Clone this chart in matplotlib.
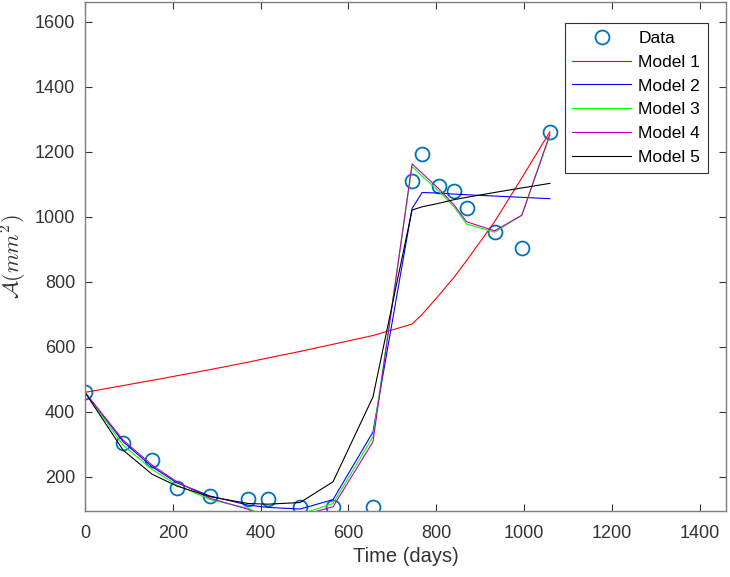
import numpy as np
import matplotlib
matplotlib.use("Agg")
import matplotlib.pyplot as plt

plt.rcParams['font.family'] = ['Liberation Sans', 'DejaVu Sans']
plt.rcParams['mathtext.fontset'] = 'cm'

# observation times (days) and measured area
t = [0, 87, 153, 209, 285, 372, 417, 490, 565, 656,
     745, 768, 807, 841, 869, 933, 995, 1059]
data = [460, 303, 252, 165, 141, 131, 131, 108, 108, 108,
        1110, 1192, 1095, 1080, 1028, 953, 903, 1262]

# model curves evaluated at the same times
model1 = [460, 481, 497, 511, 530, 553, 566, 586, 608, 635,
          670, 700, 760, 815, 865, 985, 1120, 1262]
model2 = [460, 308, 231, 182, 141, 113, 106, 101, 130, 338,
          1026, 1075, 1073, 1070, 1068, 1064, 1060, 1056]
model3 = [460, 297, 223, 175, 130, 103, 75, 85, 118, 323,
          1155, 1125, 1078, 1030, 978, 953, 1005, 1250]
model4 = [460, 313, 236, 185, 134, 100, 70, 80, 108, 308,
          1163, 1134, 1085, 1036, 985, 957, 1005, 1255]
model5 = [460, 282, 208, 172, 139, 118, 116, 121, 185, 446,
          1021, 1031, 1042, 1053, 1060, 1075, 1089, 1103]

fig = plt.figure(figsize=(7.3, 5.77), dpi=100)
ax = fig.add_axes([0.1164, 0.1144, 0.8781, 0.8821])

ax.plot(t, data, 'o', mfc='none', mec='#0072BD', ms=10, mew=1.3, label='Data')
ax.plot(t, model1, color='r', lw=0.8, label='Model 1')
ax.plot(t, model2, color='b', lw=0.8, label='Model 2')
ax.plot(t, model3, color='#00ff00', lw=0.8, label='Model 3')
ax.plot(t, model4, color='m', lw=0.8, label='Model 4')
ax.plot(t, model5, color='k', lw=0.8, label='Model 5')

ax.set_xlim(0, 1460)
ax.set_ylim(95, 1661)
ax.set_xticks(np.arange(0, 1401, 200))
ax.set_yticks(np.arange(200, 1601, 200))

grey = '#333333'
for s in ax.spines.values():
    s.set_color('#7f7f7f')
    s.set_linewidth(1.0)
ax.tick_params(direction='in', length=5, width=0.8, color=grey, labelcolor=grey,
               labelsize=13, top=True, right=True)
ax.tick_params(axis='x', pad=10)
ax.tick_params(axis='y', pad=7)

ax.set_xlabel('Time (days)', fontsize=14.5, color=grey, labelpad=4)
ax.set_ylabel(r'$\mathcal{A}(mm^2)$', fontsize=16, color=grey)

leg = ax.legend(loc='upper right', bbox_to_anchor=(0.972, 0.959), borderaxespad=0,
                fancybox=False, edgecolor=grey, fontsize=12.5, numpoints=1,
                handlelength=3.4, handletextpad=0.4, labelspacing=0.5,
                borderpad=0.45, framealpha=1)
leg.get_frame().set_linewidth(0.8)

fig.savefig('out.png', dpi=100)
